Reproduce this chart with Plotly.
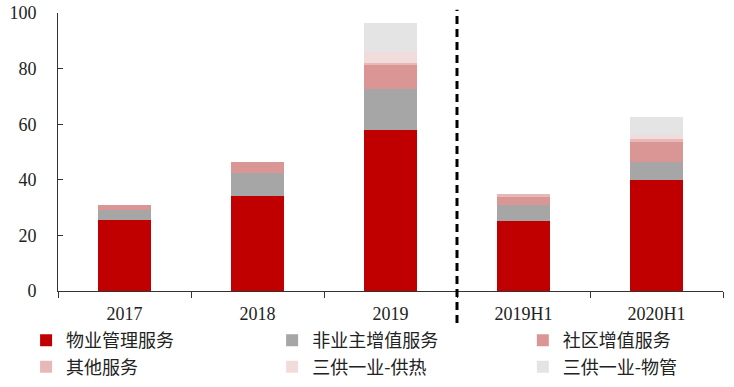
import plotly.graph_objects as go

categories = ["2017", "2018", "2019", "2019H1", "2020H1"]
wuye_guanli = [25.4, 34.2, 57.9, 25.3, 39.8]
fei_yezhu = [3.6, 8.1, 14.6, 5.6, 6.7]
shequ = [2.1, 4.2, 9.0, 3.0, 7.0]
qita = [0.0, 0.0, 0.4, 0.9, 1.0]
gongre = [0.0, 0.0, 4.0, 0.0, 1.6]
wuguan = [0.0, 0.0, 10.4, 0.0, 6.6]

series = [
    ("物业管理服务", wuye_guanli, "#C00000", "legend"),
    ("非业主增值服务", fei_yezhu, "#A6A6A6", "legend2"),
    ("社区增值服务", shequ, "#D99694", "legend3"),
    ("其他服务", qita, "#E6B9B8", "legend"),
    ("三供一业-供热", gongre, "#F2DCDB", "legend2"),
    ("三供一业-物管", wuguan, "#E4E4E4", "legend3"),
]

fig = go.Figure()
for name, vals, color, lg in series:
    fig.add_trace(go.Bar(x=categories, y=vals, name=name, legend=lg,
                         marker=dict(color=color, line=dict(width=0)),
                         width=0.4))

fig.add_shape(type="line", xref="x", yref="paper", x0=2.5, x1=2.5,
              y0=-0.115, y1=1.012,
              line=dict(color="black", width=3, dash="8px,5px"))

legend_font = dict(family="Noto Sans CJK SC", size=18, color="#222")
def make_legend(xpos):
    return dict(orientation="v", x=xpos, y=-0.112, xanchor="left", yanchor="top",
                font=legend_font, tracegroupgap=0, traceorder="normal",
                bgcolor="rgba(0,0,0,0)")

fig.update_layout(
    barmode="stack",
    width=734, height=387,
    margin=dict(l=58, r=11, t=13, b=96, autoexpand=False),
    plot_bgcolor="white", paper_bgcolor="white",
    font=dict(family="Liberation Serif, Times New Roman, serif", size=18, color="#222"),
    showlegend=True,
    legend=make_legend(-0.048),
    legend2=make_legend(0.322),
    legend3=make_legend(0.699),
    xaxis=dict(type="category", showline=True, linecolor="#333", linewidth=1,
               ticks="outside", ticklen=6, tickcolor="#333", tickson="boundaries",
               ticklabelstandoff=6,
               showgrid=False, tickfont=dict(size=18)),
    yaxis=dict(range=[0, 100], tickvals=[0, 20, 40, 60, 80, 100],
               showline=True, linecolor="#333", linewidth=1,
               ticks="inside", ticklen=5, tickcolor="#333", ticklabeloverflow="allow",
               ticklabelstandoff=17,
               showgrid=False, zeroline=False, tickfont=dict(size=18)),
)

fig.write_html("out.html", config={"displayModeBar": False},
               post_script="document.body.style.margin='0';document.body.style.overflow='hidden';")
